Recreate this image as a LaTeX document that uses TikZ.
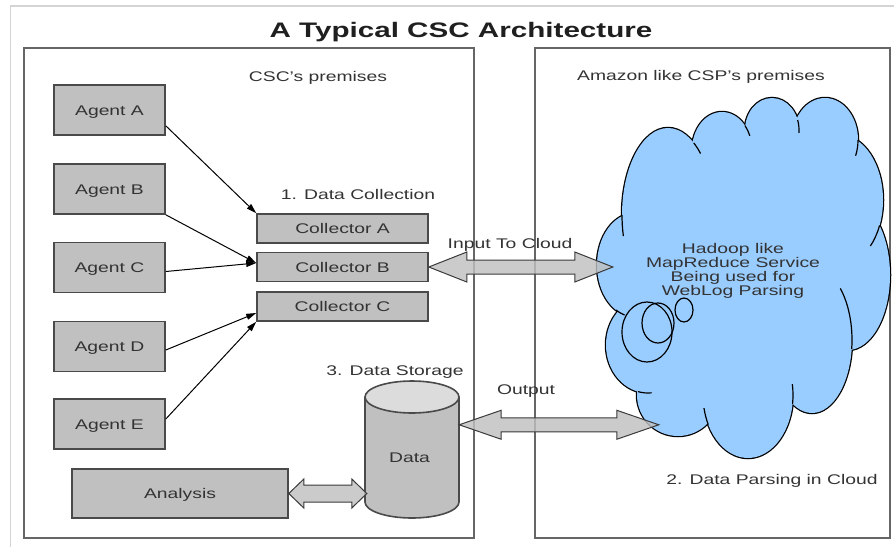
\documentclass[tikz,border=0pt]{standalone}
\usepackage{fontspec}
\setmainfont{Liberation Sans}[FakeStretch=1.38]
\newfontfamily\titlefont{Liberation Sans}[FakeStretch=1.41]
\usetikzlibrary{calc,arrows.meta}
\definecolor{boxfill}{HTML}{C0C0C0}
\definecolor{boxline}{HTML}{4A4A4A}
\definecolor{frameline}{HTML}{666666}
\definecolor{txt}{HTML}{333333}
\definecolor{cloudblue}{HTML}{99CCFF}
\definecolor{pagerule}{HTML}{D4D4D4}
\definecolor{cyltop}{HTML}{DCDCDC}
\definecolor{arrline}{HTML}{3A3A3A}
\newcommand\blockarrow[5]{\draw[blockarr] let \p1=(#1), \p2=(#2) in
  (\x1,\y1) -- (\x1+#3pt,\y1+#4pt) -- (\x1+#3pt,\y1+#5pt) -- (\x2-#3pt,\y1+#5pt) -- (\x2-#3pt,\y1+#4pt) -- (\x2,\y1)
  -- (\x2-#3pt,\y1-#4pt) -- (\x2-#3pt,\y1-#5pt) -- (\x1+#3pt,\y1-#5pt) -- (\x1+#3pt,\y1-#4pt) -- cycle;}
\newcommand\cloudstub[6]{\draw[cloudline] ({#1+#3*cos(#5)},{#2+#4*sin(#5)}) arc[start angle=#5,end angle=#6,x radius=#3,y radius=#4];}
\begin{document}
\begin{tikzpicture}[x=1pt,y=-1pt,
  every node/.style={font=\fontsize{14}{14}\selectfont, text=txt, inner sep=0pt},
  agentbox/.style={draw=boxline, fill=boxfill, line width=1.6pt, minimum width=111pt, minimum height=50pt, text height=10pt, text depth=0pt},
  collbox/.style={draw=boxline, fill=boxfill, line width=1.6pt, minimum width=171pt, minimum height=29pt, text height=10pt, text depth=0pt},
  container/.style={draw=frameline, line width=2pt},
  conn/.style={draw=black, line width=1pt, -{Triangle[length=10pt,width=6pt]}},
  blockarr/.style={draw=arrline, line width=1pt, fill=boxfill, fill opacity=0.82, line join=miter},
  cloudline/.style={draw=black, line width=1.2pt},
  lbl/.style={anchor=base}
]
\useasboundingbox (0,0) rectangle (894,547);
% page rules
\draw[pagerule, line width=1.5pt] (10.5,547) -- (10.5,6) -- (894,6);

% title
\node[lbl, font={\titlefont\fontsize{21}{21}\selectfont\bfseries}, text=black!88] (title) at (461,37.3) {A Typical CSC Architecture};

% containers
\node[container, minimum width=450pt, minimum height=490pt] (left) at (249,293) {};
\node[container, minimum width=355pt, minimum height=490pt] (right) at (712.5,293) {};
\node[lbl] (csc) at (318,81) {CSC's premises};
\node[lbl] (csp) at (701,80.7) {Amazon like CSP's premises};

% agents
\node[agentbox] (agA) at (109.5,110) {Agent A};
\node[agentbox] (agB) at (109.5,189) {Agent B};
\node[agentbox] (agC) at (109.5,267.5) {Agent C};
\node[agentbox] (agD) at (109.5,346.5) {Agent D};
\node[agentbox] (agE) at (109.5,424) {Agent E};

% collectors
\node[lbl] (dcol) at (358,199) {1. Data Collection};
\node[collbox] (collA) at (342.5,228.5) {Collector A};
\node[collbox] (collB) at (342.5,267) {Collector B};
\node[collbox] (collC) at (342.5,306.5) {Collector C};

% analysis
\node[agentbox, minimum width=216pt, minimum height=49pt] (analysis) at (180,493.5) {Analysis};

% data cylinder
\node[lbl] (dstore) at (395,375) {3. Data Storage};
\node[minimum width=94pt, minimum height=137pt] (data) at (412,449.5) {};
\fill[boxfill] (365,397) -- (365,502) arc[start angle=180,end angle=0,x radius=47,y radius=16] -- (459,397) -- cycle;
\draw[boxline, line width=1.6pt] (365,397) -- (365,502) arc[start angle=180,end angle=0,x radius=47,y radius=16] -- (459,397);
\draw[boxline, line width=1.6pt, fill=cyltop] (412,397) ellipse[x radius=47, y radius=16];
\node (datatxt) at (409.5,458) {Data};

% agent connectors
\draw[conn] ($(agA.south east)+(0,-10)$) -- (collA.north west);
\draw[conn] (agB.south east) -- ($(collB.west)+(0,-4)$);
\draw[conn] ($(agC.east)+(0,4)$) -- ($(collB.west)+(0,-4)$);
\draw[conn] ($(agD.east)+(0,3.5)$) -- ($(collC.west)+(0,6.5)$);
\draw[conn] ($(agE.east)+(0,-5)$) -- (collC.south west);

% cloud
\node[minimum width=293pt, minimum height=360pt] (cloud) at (743.5,278) {};
\begin{scope}
\foreach \cx/\cy/\rx/\ry in {635/265/38/52, 668/215/46/87, 722/150/30/38, 772/130/27/32, 825/140/33/42, 840/200/43/65, 848/275/42/75, 812/340/40/73, 748/395/45/63, 678/395/41/41, 648/345/42/48, 750/270/92/135}
  \draw[black, line width=2.5pt] (\cx,\cy) ellipse[x radius=\rx, y radius=\ry];
\foreach \cx/\cy/\rx/\ry in {635/265/38/52, 668/215/46/87, 722/150/30/38, 772/130/27/32, 825/140/33/42, 840/200/43/65, 848/275/42/75, 812/340/40/73, 748/395/45/63, 678/395/41/41, 648/345/42/48, 750/270/92/135}
  \fill[cloudblue] (\cx,\cy) ellipse[x radius=\rx, y radius=\ry];
\end{scope}
\cloudstub{668}{215}{46}{87}{180}{166}
\cloudstub{635}{265}{38}{52}{120}{106}
\cloudstub{648}{345}{42}{48}{104}{85}
\cloudstub{748}{395}{45}{63}{152}{168}
\cloudstub{748}{395}{45}{63}{8}{-10}
\cloudstub{812}{340}{40}{73}{7}{-45}
\cloudstub{840}{200}{43}{65}{23}{45}
\cloudstub{825}{140}{33}{42}{0}{22}
\cloudstub{772}{130}{27}{32}{-18}{5}
\cloudstub{722}{150}{30}{38}{-40}{-22}
\cloudstub{668}{215}{46}{87}{-56}{-45}
\draw[cloudline] (647,332) ellipse[x radius=25, y radius=30];
\draw[cloudline] (658,323) ellipse[x radius=16, y radius=20];
\draw[cloudline] (684,310) ellipse[x radius=9, y radius=12];
\node[align=center] (cloudtxt) at (733,270.5) {Hadoop like\\MapReduce Service\\Being used for\\WebLog Parsing};
\node[lbl] (parse) at (772,484) {2. Data Parsing in Cloud};

% block arrows
\node[lbl] (inlbl) at (510,248) {Input To Cloud};
\node[lbl] (outlbl) at (526,394) {Output};
\blockarrow{collB.east}{$(cloud.west)+(16,0)$}{38}{15}{7}
\blockarrow{$(data.north east)!0.32!(data.south east)$}{$(cloud.south west)+(62,0)$}{42}{14.5}{7}
\blockarrow{analysis.east}{$(data.west)+(2,0)$}{15}{14.5}{8.5}
\end{tikzpicture}
\end{document}
